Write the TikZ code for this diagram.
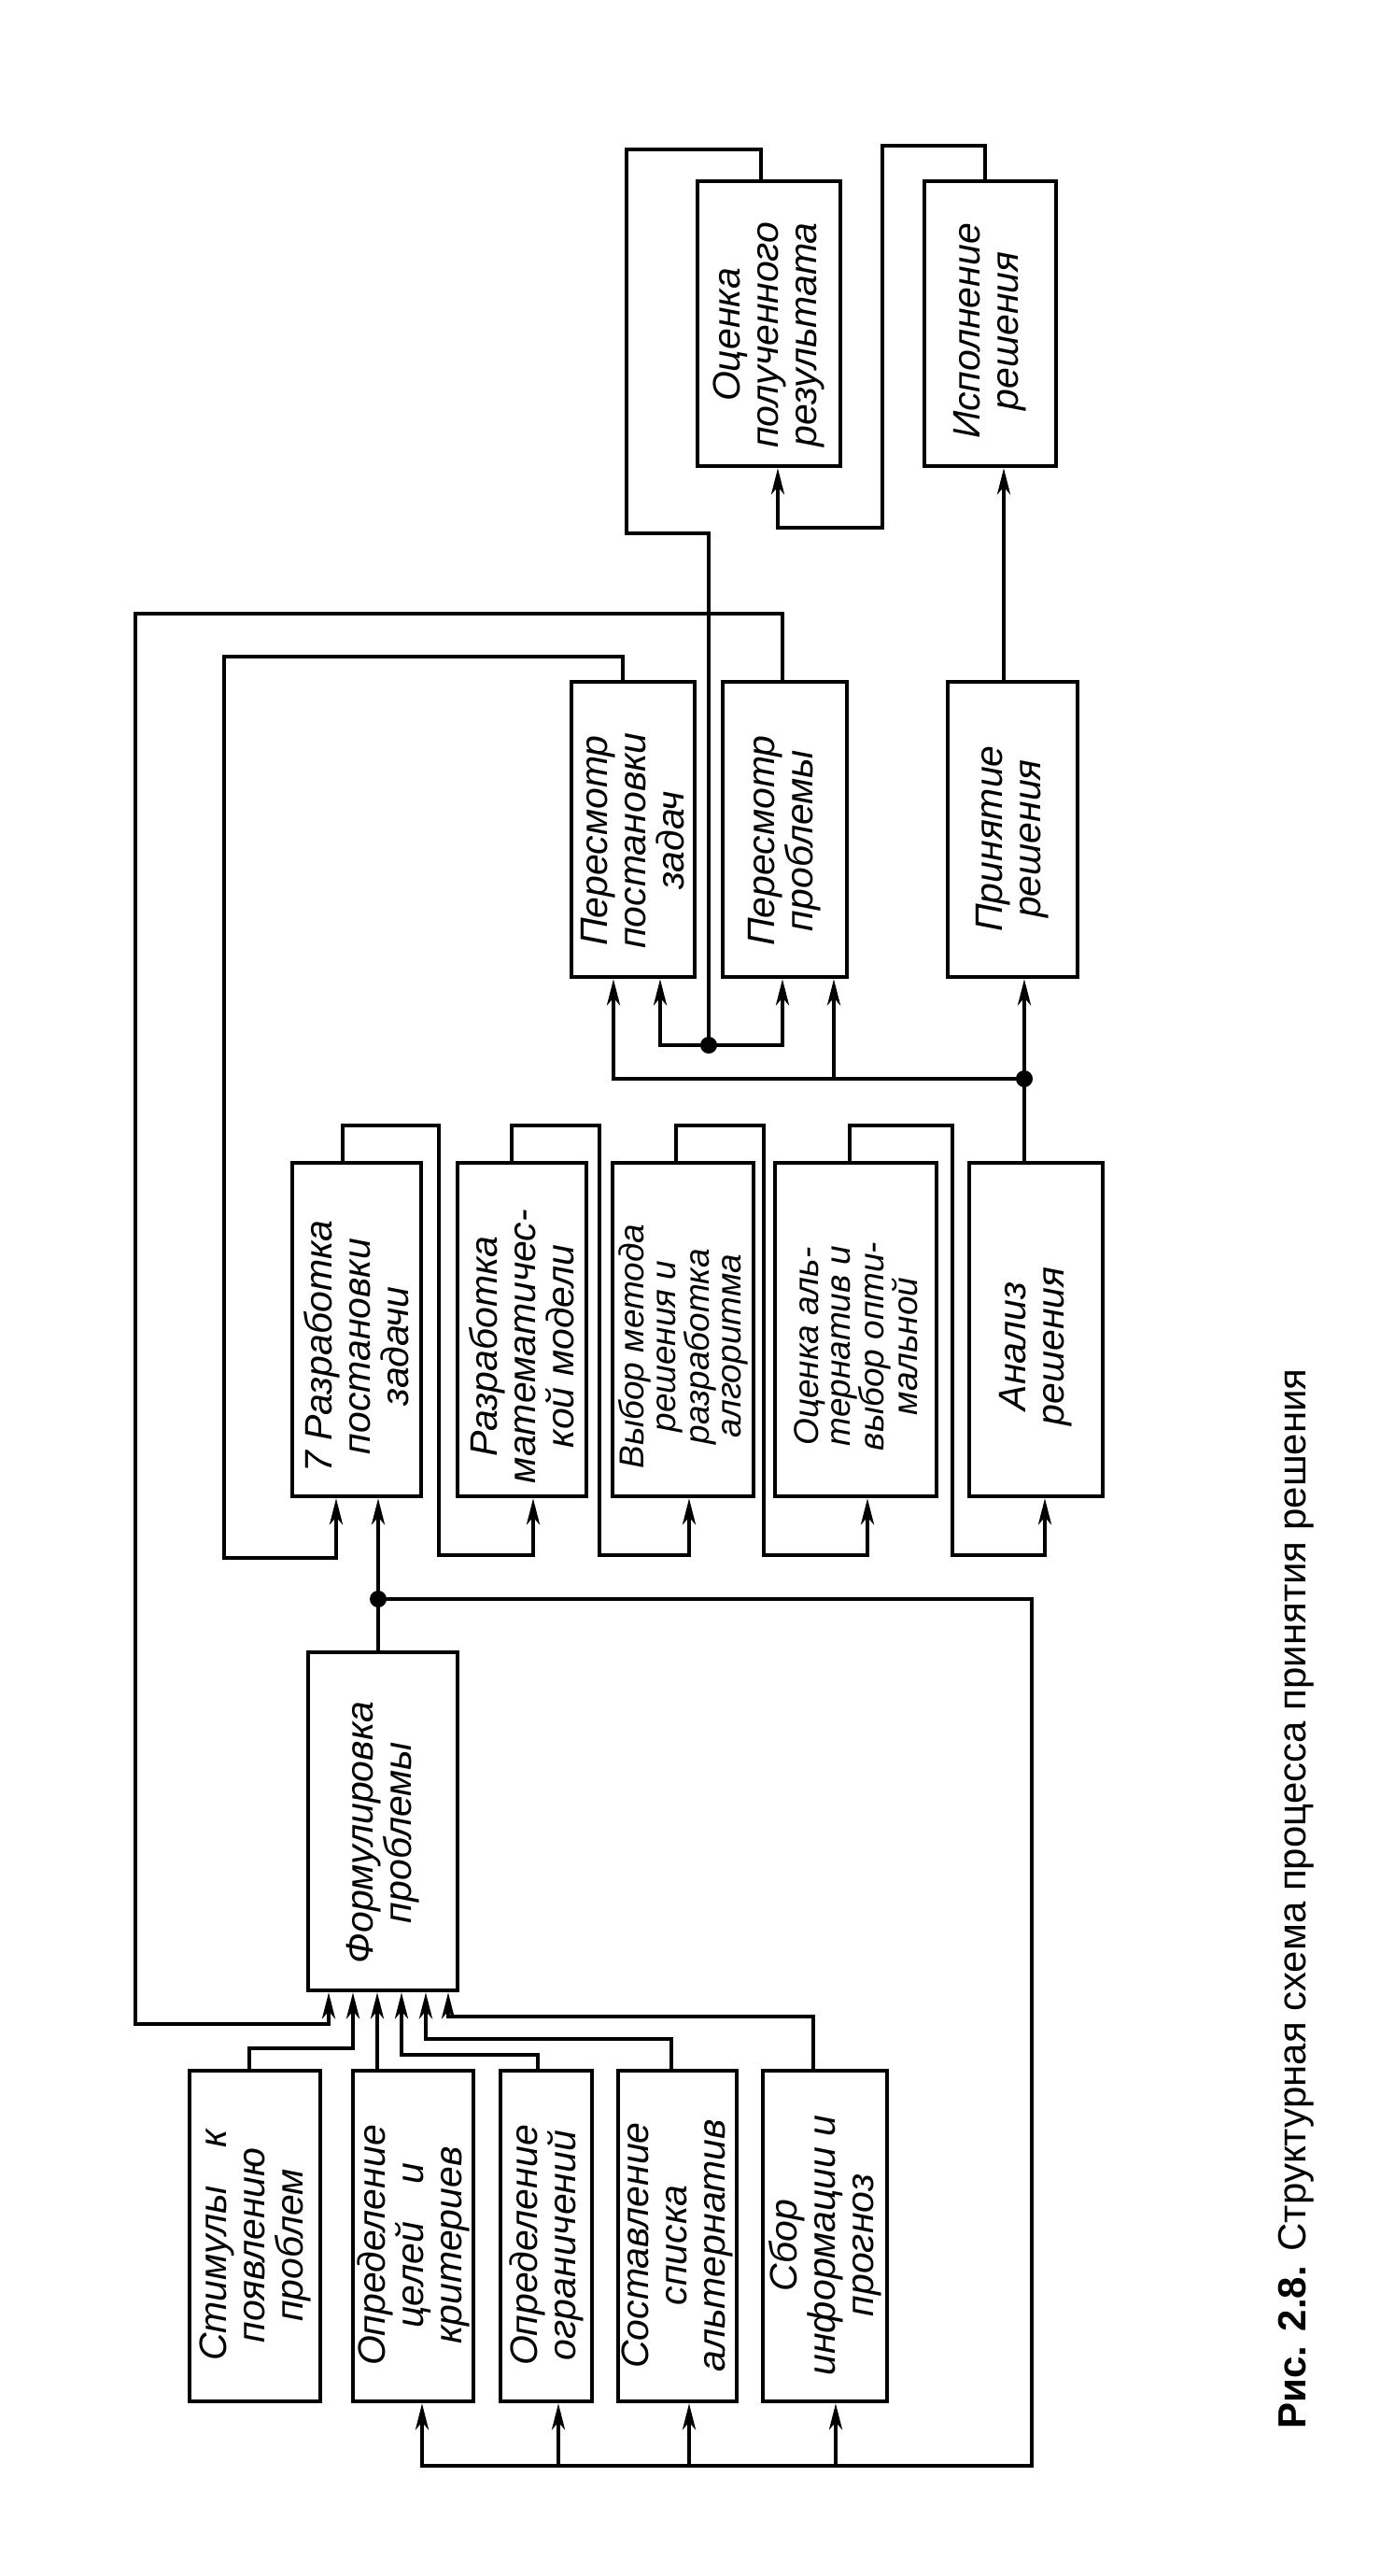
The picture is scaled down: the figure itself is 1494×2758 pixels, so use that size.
\documentclass[tikz,border=0pt]{standalone}
\usepackage{fontspec}
\setmainfont{Liberation Sans}
\usetikzlibrary{arrows.meta,calc}
\begin{document}
\begin{tikzpicture}[x=1pt,y=-1pt,
  box/.style={draw,line width=4.5pt,inner sep=0pt},
  lbl/.style={rotate=90,inner sep=0pt,align=center,font=\fontsize{41}{41}\selectfont\itshape},
  lblf/.style={lbl,font=\fontsize{37}{34}\selectfont\itshape},
  ln/.style={line width=4.2pt},
  arr/.style={ln,-{Stealth[length=28pt,width=14pt,inset=8pt]}},
  jdot/.style={circle,fill,inner sep=0pt,minimum size=18pt},
]
\fill[white] (0,0) rectangle (1494,2758);
\useasboundingbox (0,0) rectangle (1494,2758);

% ---------- boxes ----------
\node[box,minimum width=140pt,minimum height=354pt] (b1) at (273,2394) {};
\node[box,minimum width=129pt,minimum height=354pt] (b2) at (442.5,2394) {};
\node[box,minimum width=98pt,minimum height=354pt] (b3) at (585,2394) {};
\node[box,minimum width=127pt,minimum height=354pt] (b4) at (725.5,2394) {};
\node[box,minimum width=133pt,minimum height=354pt] (b5) at (883.5,2394) {};
\node[box,minimum width=160pt,minimum height=362pt] (b6) at (410,1950) {};
\node[box,minimum width=138pt,minimum height=357pt] (b7) at (382,1423.5) {};
\node[box,minimum width=138pt,minimum height=357pt] (b8) at (559,1423.5) {};
\node[box,minimum width=151pt,minimum height=357pt] (b9) at (731.5,1423.5) {};
\node[box,minimum width=173pt,minimum height=357pt] (b10) at (916.5,1423.5) {};
\node[box,minimum width=143pt,minimum height=357pt] (b11) at (1109.5,1423.5) {};
\node[box,minimum width=132pt,minimum height=316pt] (b12) at (678,888) {};
\node[box,minimum width=133pt,minimum height=316pt] (b13) at (840.5,888) {};
\node[box,minimum width=139pt,minimum height=316pt] (b14) at (1084.5,888) {};
\node[box,minimum width=153pt,minimum height=305pt] (b15) at (823.5,346.5) {};
\node[box,minimum width=141pt,minimum height=305pt] (b16) at (1060.5,346.5) {};

% ---------- labels ----------
\node[lbl] (t1) at ($(b1.center)+(0,10)$) {Стимулы\quad к\\появлению\\проблем};
\node[lbl] (t2) at ($(b2.center)+(0,10)$) {Определение\\целей\quad и\\критериев};
\node[lbl] (t3) at ($(b3.center)+(0,10)$) {Определение\\ограничений};
\node[lbl] (t4) at ($(b4.center)+(0,10)$) {Составление\\списка\\альтернатив};
\node[lbl] (t5) at ($(b5.center)+(0,10)$) {Сбор\\информации и\\прогноз};
\node[lbl] (t6) at ($(b6.center)+(0,12)$) {Формулировка\\проблемы};
\node[lbl] (t7) at ($(b7.center)+(0,18)$) {7 Разработка\\постановки\\задачи};
\node[lbl] (t8) at ($(b8.center)+(0,18)$) {Разработка\\математичес-\\кой модели};
\node[lblf] (t9) at ($(b9.center)+(0,18)$) {Выбор метода\\решения и\\разработка\\алгоритма};
\node[lblf] (t10) at ($(b10.center)+(0,18)$) {Оценка аль-\\тернатив и\\выбор опти-\\мальной};
\node[lbl] (t11) at ($(b11.center)+(0,18)$) {Анализ\\решения};
\node[lbl] (t12) at ($(b12.center)+(0,12)$) {Пересмотр\\постановки\\задач};
\node[lbl] (t13) at ($(b13.center)+(0,12)$) {Пересмотр\\проблемы};
\node[lbl] (t14) at ($(b14.center)+(0,10)$) {Принятие\\решения};
\node[lbl] (t15) at ($(b15.center)+(0,12)$) {Оценка\\полученного\\результата};
\node[lbl] (t16) at ($(b16.center)+(0,8)$) {Исполнение\\решения};

% ---------- junction dots ----------
\node[jdot] (d0) at (405,1712) {};
\node[jdot] (d1) at (1097,1155) {};
\node[jdot] (d2) at (759,1119) {};

% ---------- top section ----------
% 16 -> 15
\coordinate (r1a) at (1055,156);
\coordinate (r1b) at (945,156);
\coordinate (r1c) at (945,565);
\coordinate (r1d) at (833,565);
\draw[arr] (r1a |- b16.north) -- (r1a) -- (r1b) -- (r1c) -- (r1d) -- (r1d |- b15.south);
% 14 -> 16
\coordinate (r2) at (1075,600);
\draw[arr] (r2 |- b14.north) -- (r2 |- b16.south);
% 15 -> d2
\coordinate (r3a) at (815,160);
\coordinate (r3b) at (671,160);
\coordinate (r3c) at (671,571);
\coordinate (r3d) at (759,571);
\draw[ln] (r3a |- b15.north) -- (r3a) -- (r3b) -- (r3c) -- (r3d) -- (d2.center);
\coordinate (r4a) at (707,1119);
\coordinate (r4b) at (838,1119);
\draw[arr] (d2.center) -- (r4a) -- (r4a |- b12.south);
\draw[arr] (d2.center) -- (r4b) -- (r4b |- b13.south);
% 11 -> d1 -> 14, 12, 13
\draw[ln] (d1 |- b11.north) -- (d1.center);
\draw[arr] (d1.center) -- (d1 |- b14.south);
\coordinate (r5a) at (657,1155);
\coordinate (r5b) at (893,1155);
\draw[arr] (d1.center) -- (r5a) -- (r5a |- b12.south);
\draw[arr] (r5b) -- (r5b |- b13.south);
% 13 -> 6 (outer loop)
\coordinate (r6a) at (838,657);
\coordinate (r6b) at (145,657);
\coordinate (r6c) at (145,2167);
\coordinate (r6d) at (352,2167);
\draw[arr] (r6a |- b13.north) -- (r6a) -- (r6b) -- (r6c) -- (r6d) -- (r6d |- b6.south);
% 12 -> 7 (inner loop)
\coordinate (r7a) at (667,703);
\coordinate (r7b) at (240,703);
\coordinate (r7c) at (240,1668);
\coordinate (r7d) at (360,1668);
\draw[arr] (r7a |- b12.north) -- (r7a) -- (r7b) -- (r7c) -- (r7d) -- (r7d |- b7.south);

% ---------- middle chain ----------
\coordinate (c1a) at (367,1205); \coordinate (c1b) at (470,1205);
\coordinate (c1c) at (470,1665); \coordinate (c1d) at (571,1665);
\draw[arr] (c1a |- b7.north) -- (c1a) -- (c1b) -- (c1c) -- (c1d) -- (c1d |- b8.south);
\coordinate (c2a) at (548,1205); \coordinate (c2b) at (642,1205);
\coordinate (c2c) at (642,1665); \coordinate (c2d) at (738,1665);
\draw[arr] (c2a |- b8.north) -- (c2a) -- (c2b) -- (c2c) -- (c2d) -- (c2d |- b9.south);
\coordinate (c3a) at (724,1205); \coordinate (c3b) at (818,1205);
\coordinate (c3c) at (818,1665); \coordinate (c3d) at (929,1665);
\draw[arr] (c3a |- b9.north) -- (c3a) -- (c3b) -- (c3c) -- (c3d) -- (c3d |- b10.south);
\coordinate (c4a) at (910,1205); \coordinate (c4b) at (1020,1205);
\coordinate (c4c) at (1020,1665); \coordinate (c4d) at (1119,1665);
\draw[arr] (c4a |- b10.north) -- (c4a) -- (c4b) -- (c4c) -- (c4d) -- (c4d |- b11.south);

% ---------- 6 -> d0 -> 7 and feedback bus ----------
\draw[ln] (d0 |- b6.north) -- (d0.center);
\draw[arr] (d0.center) -- (d0 |- b7.south);
\coordinate (r8a) at (1105,1712);
\coordinate (r8b) at (1105,2640);
\coordinate (r8c) at (452,2640);
\coordinate (r8d) at (598,2640);
\coordinate (r8e) at (738,2640);
\coordinate (r8f) at (895,2640);
\draw[arr] (d0.center) -- (r8a) -- (r8b) -- (r8c) -- (r8c |- b2.south);
\draw[arr] (r8d) -- (r8d |- b3.south);
\draw[arr] (r8e) -- (r8e |- b4.south);
\draw[arr] (r8f) -- (r8f |- b5.south);

% ---------- inputs to 6 ----------
\coordinate (i1a) at (267,2193); \coordinate (i1b) at (378,2193);
\draw[arr] (i1a |- b1.north) -- (i1a) -- (i1b) -- (i1b |- b6.south);
\coordinate (i2) at (404,2200);
\draw[arr] (i2 |- b2.north) -- (i2 |- b6.south);
\coordinate (i3a) at (576,2200); \coordinate (i3b) at (430,2200);
\draw[arr] (i3a |- b3.north) -- (i3a) -- (i3b) -- (i3b |- b6.south);
\coordinate (i4a) at (719,2183); \coordinate (i4b) at (456,2183);
\draw[arr] (i4a |- b4.north) -- (i4a) -- (i4b) -- (i4b |- b6.south);
\coordinate (i5a) at (871,2159); \coordinate (i5b) at (480,2159);
\draw[arr] (i5a |- b5.north) -- (i5a) -- (i5b) -- (i5b |- b6.south);

% ---------- caption ----------
\node[rotate=90,anchor=base,inner sep=0pt,font=\fontsize{42}{42}\selectfont] (cap) at (1398,2033)
  {\textbf{Рис. 2.8.} Структурная схема процесса принятия решения};
\end{tikzpicture}
\end{document}
